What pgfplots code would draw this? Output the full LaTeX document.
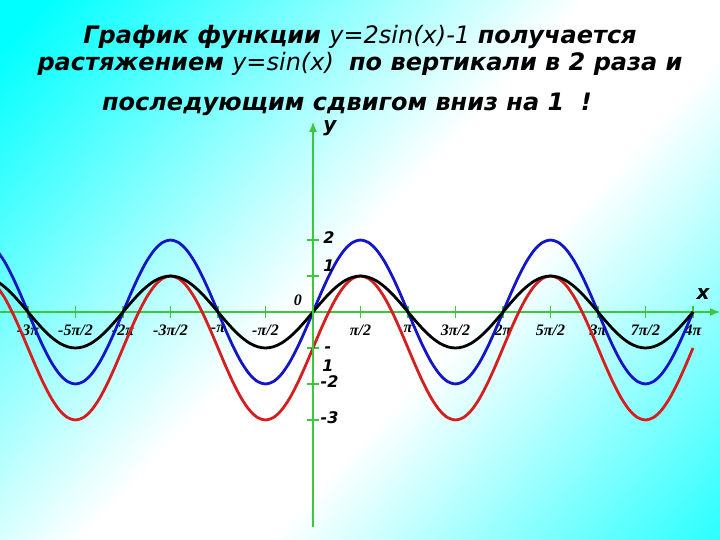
\documentclass[border=0pt]{standalone}
\usepackage{fontspec}
\setmainfont{DejaVu Sans}
\newfontfamily\lserif{Liberation Serif}
\usepackage{pgfplots}
\pgfplotsset{compat=1.18}
\usepackage{pgfplotstable}
\usetikzlibrary{arrows.meta}
\definecolor{axgreen}{RGB}{60,200,60}
\definecolor{bgcyan}{RGB}{0,255,255}
\definecolor{cblue}{RGB}{20,20,200}
\definecolor{cred}{RGB}{215,30,30}
\newcommand{\lab}{\bfseries\itshape\fontsize{8}{9.5}\selectfont}
\pgfdeclareverticalshading{bgshade}{100bp}{color(0bp)=(bgcyan); color(23bp)=(bgcyan); color(46bp)=(white); color(54bp)=(white); color(77bp)=(bgcyan); color(100bp)=(bgcyan)}

\pgfplotstableread{
x s b r
-3.3333 0.866 1.732 0.732
-3.25 0.7071 1.4142 0.4142
-3.1667 0.5 1 0
-3.0833 0.2588 0.5176 -0.4824
-3 0 0 -1
-2.9167 -0.2588 -0.5176 -1.5176
-2.8333 -0.5 -1 -2
-2.75 -0.7071 -1.4142 -2.4142
-2.6667 -0.866 -1.732 -2.732
-2.5833 -0.9659 -1.9319 -2.9319
-2.5 -1 -2 -3
-2.4167 -0.9659 -1.9319 -2.9319
-2.3333 -0.866 -1.732 -2.732
-2.25 -0.7071 -1.4142 -2.4142
-2.1667 -0.5 -1 -2
-2.0833 -0.2588 -0.5176 -1.5176
-2 0 0 -1
-1.9167 0.2588 0.5176 -0.4824
-1.8333 0.5 1 0
-1.75 0.7071 1.4142 0.4142
-1.6667 0.866 1.732 0.732
-1.5833 0.9659 1.9319 0.9319
-1.5 1 2 1
-1.4167 0.9659 1.9319 0.9319
-1.3333 0.866 1.732 0.732
-1.25 0.7071 1.4142 0.4142
-1.1667 0.5 1 0
-1.0833 0.2588 0.5176 -0.4824
-1 0 0 -1
-0.9167 -0.2588 -0.5176 -1.5176
-0.8333 -0.5 -1 -2
-0.75 -0.7071 -1.4142 -2.4142
-0.6667 -0.866 -1.732 -2.732
-0.5833 -0.9659 -1.9319 -2.9319
-0.5 -1 -2 -3
-0.4167 -0.9659 -1.9319 -2.9319
-0.3333 -0.866 -1.732 -2.732
-0.25 -0.7071 -1.4142 -2.4142
-0.1667 -0.5 -1 -2
-0.0833 -0.2588 -0.5176 -1.5176
0 0 0 -1
0.0833 0.2588 0.5176 -0.4824
0.1667 0.5 1 0
0.25 0.7071 1.4142 0.4142
0.3333 0.866 1.732 0.732
0.4167 0.9659 1.9319 0.9319
0.5 1 2 1
0.5833 0.9659 1.9319 0.9319
0.6667 0.866 1.732 0.732
0.75 0.7071 1.4142 0.4142
0.8333 0.5 1 0
0.9167 0.2588 0.5176 -0.4824
1 0 0 -1
1.0833 -0.2588 -0.5176 -1.5176
1.1667 -0.5 -1 -2
1.25 -0.7071 -1.4142 -2.4142
1.3333 -0.866 -1.732 -2.732
1.4167 -0.9659 -1.9319 -2.9319
1.5 -1 -2 -3
1.5833 -0.9659 -1.9319 -2.9319
1.6667 -0.866 -1.732 -2.732
1.75 -0.7071 -1.4142 -2.4142
1.8333 -0.5 -1 -2
1.9167 -0.2588 -0.5176 -1.5176
2 0 0 -1
2.0833 0.2588 0.5176 -0.4824
2.1667 0.5 1 0
2.25 0.7071 1.4142 0.4142
2.3333 0.866 1.732 0.732
2.4167 0.9659 1.9319 0.9319
2.5 1 2 1
2.5833 0.9659 1.9319 0.9319
2.6667 0.866 1.732 0.732
2.75 0.7071 1.4142 0.4142
2.8333 0.5 1 0
2.9167 0.2588 0.5176 -0.4824
3 0 0 -1
3.0833 -0.2588 -0.5176 -1.5176
3.1667 -0.5 -1 -2
3.25 -0.7071 -1.4142 -2.4142
3.3333 -0.866 -1.732 -2.732
3.4167 -0.9659 -1.9319 -2.9319
3.5 -1 -2 -3
3.5833 -0.9659 -1.9319 -2.9319
3.6667 -0.866 -1.732 -2.732
3.75 -0.7071 -1.4142 -2.4142
3.8333 -0.5 -1 -2
3.9167 -0.2588 -0.5176 -1.5176
4 0 0 -1
}\sintable

\begin{document}
\begin{tikzpicture}
\begin{scope}
\clip (0,0) rectangle (360pt,270pt);
\shade[shading=bgshade, shading angle=47] (-2.5pt,-81pt) rectangle (429.5pt,351pt);
\end{scope}
\begin{axis}[
  at={(0,0)}, anchor=south west,
  scale only axis, width=360pt, height=270pt,
  xmin=-3.2947, xmax=4.2842, ymin=-6.3333, ymax=8.6667,
  axis lines=middle,
  axis line style={axgreen, line width=0.6pt},
  every inner x axis line/.append style={-{Latex[length=5pt,width=4pt]}},
  x axis line style={-{Latex[length=5pt,width=4pt]}},
  y axis line style={draw=none},
  xtick={-3,-2.5,-2,-1.5,-1,-0.5,0.5,1,1.5,2,2.5,3,3.5,4},
  xticklabels={{-3π},{-5π/2},{-2π},{-3π/2},{-π},{-π/2},{π/2},{π},{3π/2},{2π},{5π/2},{3π},{7π/2},{4π}},
  ytick={-3,-2,-1,1,2},
  yticklabels={,,,,},
  tick style={axgreen, line width=0.6pt},
  major tick length=6pt, tick align=center,
  xticklabel style={font=\lserif\bfseries\itshape\fontsize{8}{9}\selectfont, anchor=north, yshift=0pt},
  clip=true,
]
\addplot[cred, line width=1.4pt, smooth] table[x=x, y=r] {\sintable};
\addplot[cblue, line width=1.4pt, smooth] table[x=x, y=b] {\sintable};
\addplot[black, line width=1.4pt, smooth] table[x=x, y=s] {\sintable};
\draw[axgreen, line width=0.6pt, -{Latex[length=5pt,width=4pt]}] (axis cs:0,-5.97) -- (axis cs:0,5.28);
\node[font=\lab, anchor=west] at (axis cs:0.035,2.056) {2};
\node[font=\lab, anchor=west] at (axis cs:0.035,1.278) {1};
\node[font=\lab, align=center] at (axis cs:0.158,-1.306) {-\\1};
\node[font=\lab, anchor=west] at (axis cs:0.007,-1.944) {-2};
\node[font=\lab, anchor=west] at (axis cs:0.007,-2.944) {-3};
\node[font=\lserif\bfseries\itshape\fontsize{8}{9}\selectfont] at (axis cs:-0.158,0.333) {0};
\node[font=\bfseries\itshape\fontsize{10}{12}\selectfont] at (axis cs:0.179,5.11) {y};
\node[font=\bfseries\itshape\fontsize{10}{12}\selectfont] at (axis cs:4.105,0.5) {x};
\node[anchor=base, font=\fontsize{12}{14}\selectfont] at (rel axis cs:0.5,0.920) {\bfseries\itshape График функции \mdseries y=2sin(x)-1 \bfseries получается};
\node[anchor=base, font=\fontsize{12}{14}\selectfont] at (rel axis cs:0.5,0.870) {\bfseries\itshape растяжением \mdseries y=sin(x)\ \ \bfseries по вертикали в 2 раза и};
\node[anchor=base, font=\fontsize{12}{14}\selectfont] at (rel axis cs:0.482,0.796) {\bfseries\itshape последующим сдвигом вниз на 1\ \ !};
\end{axis}
\pgfresetboundingbox
\path[use as bounding box] (0,0) rectangle (360pt,270pt);
\end{tikzpicture}
\end{document}
